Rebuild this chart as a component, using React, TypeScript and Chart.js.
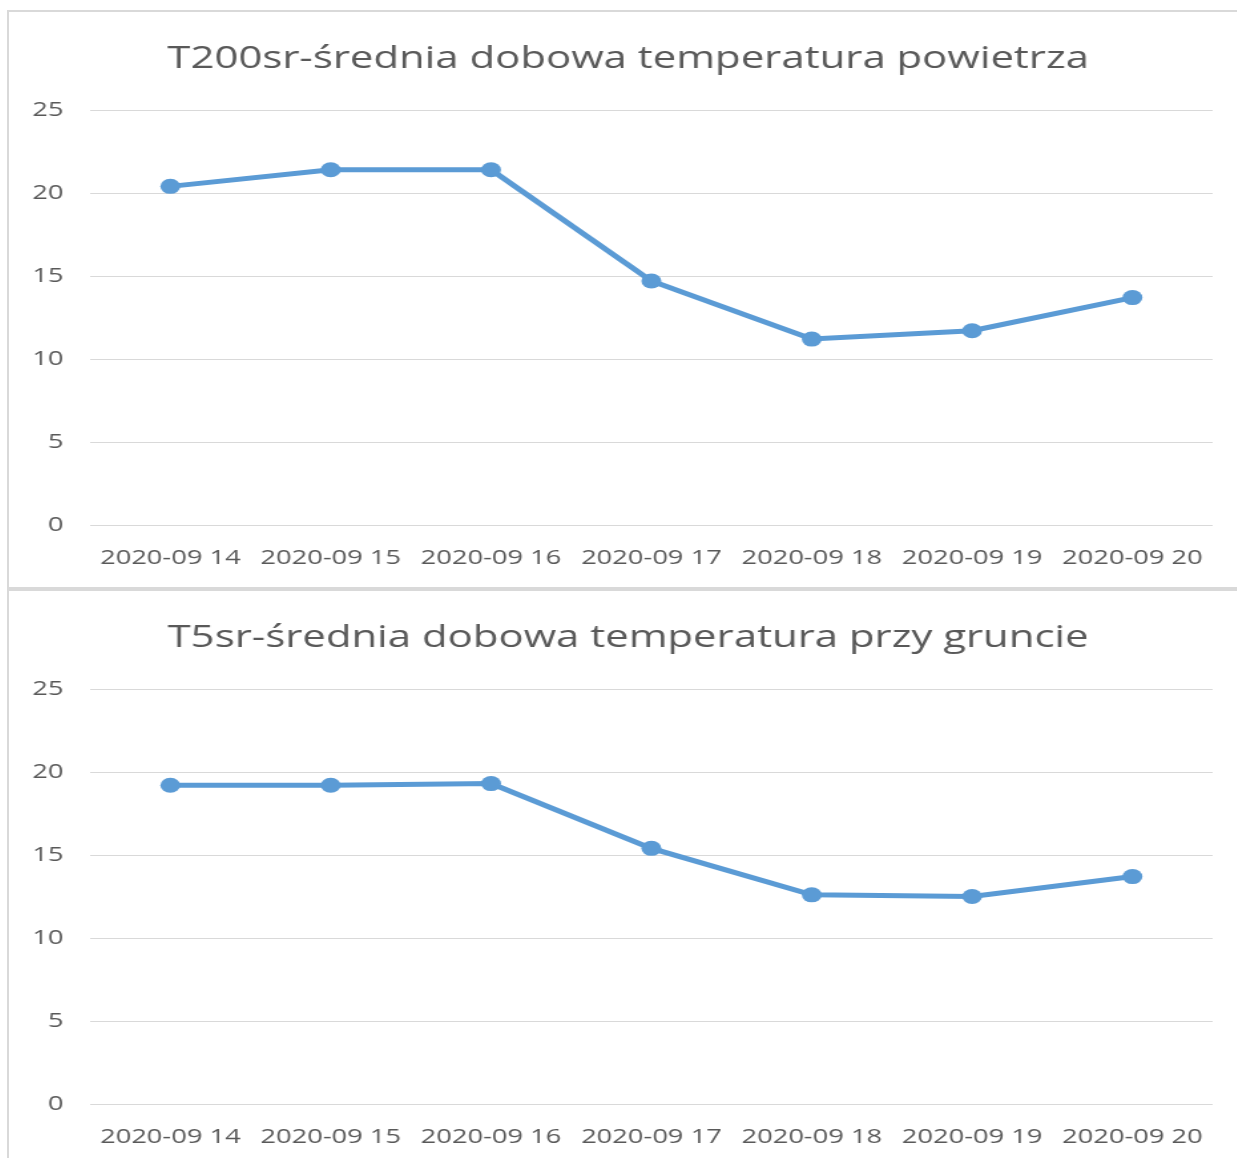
import React, { useEffect, useRef } from "react";
import { Chart, registerables } from "chart.js";

Chart.register(...registerables);

const categories = [
  "2020-09 14",
  "2020-09 15",
  "2020-09 16",
  "2020-09 17",
  "2020-09 18",
  "2020-09 19",
  "2020-09 20",
];
const t200Values = [20.4, 21.4, 21.4, 14.7, 11.2, 11.7, 13.7];
const t5Values = [19.2, 19.2, 19.3, 15.4, 12.6, 12.5, 13.7];
const yMin = 0;
const yMax = 25;
const yStep = 5;
const title1 = "T200sr-średnia dobowa temperatura powietrza";
const title2 = "T5sr-średnia dobowa temperatura przy gruncie";

const STRETCH = 1.33;
const CW = 925;
const CH = 576;
const FONT = "'Open Sans', 'Noto Sans', sans-serif";
const TEXT = "#595959";
const LINE = "#5b9bd5";

function LineChart({ title, values }: { title: string; values: number[] }) {
  const ref = useRef<HTMLCanvasElement>(null);
  useEffect(() => {
    const titlePlugin = {
      id: "centeredTitle",
      afterDraw(chart: any) {
        const ctx = chart.ctx;
        ctx.save();
        ctx.fillStyle = TEXT;
        ctx.font = `normal 31.5px ${FONT}`;
        ctx.textAlign = "center";
        ctx.textBaseline = "middle";
        ctx.fillText(title, chart.width / 2 + 3, 47);
        ctx.restore();
      },
    };
    const chart = new Chart(ref.current!, {
      type: "line",
      data: {
        labels: categories,
        datasets: [
          {
            data: values,
            borderColor: LINE,
            backgroundColor: LINE,
            borderWidth: 5,
            pointRadius: 7.5,
            pointHoverRadius: 7.5,
            pointBorderWidth: 0,
            tension: 0,
          },
        ],
      },
      plugins: [titlePlugin],
      options: {
        responsive: false,
        animation: false,
        layout: { padding: { left: 0, right: 20, top: 98, bottom: 18 } },
        plugins: {
          legend: { display: false },
          tooltip: { enabled: false },
          title: { display: false },
        },
        scales: {
          x: {
            offset: true,
            grid: { display: false, drawTicks: false },
            border: { display: false },
            ticks: {
              color: TEXT,
              font: { family: FONT, size: 20.5 },
              padding: 21,
              maxRotation: 0,
              autoSkip: false,
            },
            afterFit: (s: any) => {
              s.height = 45;
            },
          },
          y: {
            min: yMin,
            max: yMax,
            grid: { color: "#d9d9d9", lineWidth: 1, drawTicks: false },
            border: { display: false },
            ticks: {
              stepSize: yStep,
              color: TEXT,
              font: { family: FONT, size: 20.5 },
              padding: 20,
            },
            afterFit: (s: any) => {
              s.width = 61;
            },
          },
        },
      },
    } as any);
    return () => chart.destroy();
  }, [title, values]);
  return (
    <canvas
      ref={ref}
      width={CW}
      height={CH}
      style={{
        position: "absolute",
        left: 0,
        top: 0,
        transform: `scaleX(${STRETCH})`,
        transformOrigin: "0 0",
      }}
    />
  );
}

export default function App() {
  return (
    <div
      style={{
        position: "fixed",
        left: 0,
        top: 0,
        width: 1237,
        height: 1158,
        overflow: "hidden",
        background: "#fff",
      }}
    >
      <div
        style={{
          position: "absolute",
          left: 7,
          top: 10,
          width: 1260,
          height: 579,
          boxSizing: "border-box",
          border: "2px solid #d9d9d9",
          overflow: "hidden",
        }}
      >
        <LineChart title={title1} values={t200Values} />
      </div>
      <div
        style={{
          position: "absolute",
          left: 7,
          top: 589,
          width: 1260,
          height: 600,
          boxSizing: "border-box",
          border: "2px solid #d9d9d9",
          overflow: "hidden",
        }}
      >
        <LineChart title={title2} values={t5Values} />
      </div>
    </div>
  );
}
